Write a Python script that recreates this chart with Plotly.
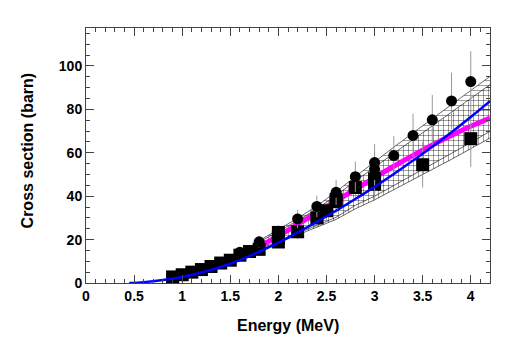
import plotly.graph_objects as go

# ---------------------------------------------------------------------
# Data
# ---------------------------------------------------------------------

# circles (data set 1)
circ_e = [1.6, 1.8, 2.2, 2.4, 2.6, 2.8, 3.0, 3.0, 3.0, 3.2, 3.4, 3.6, 3.8, 4.0]
circ_xs = [14.2, 19.0, 29.5, 35.3, 41.8, 49.0, 55.5, 52.5, 50.0, 58.7, 68.0, 75.2, 83.9, 92.8]
circ_err = [2.0, 2.7, 4.2, 5.0, 5.8, 7.0, 8.5, 8.0, 7.5, 9.0, 10.0, 11.5, 13.0, 14.0]

# squares (data set 2)
sq_e = [0.9, 1.0, 1.1, 1.2, 1.3, 1.4, 1.5, 1.6, 1.7, 1.8,
        2.0, 2.0, 2.0, 2.2, 2.4, 2.5, 2.6, 2.6, 2.8, 3.0, 3.0, 3.5, 4.0]
sq_xs = [2.8, 3.8, 5.0, 6.2, 7.6, 9.2, 10.5, 12.8, 14.5, 15.5,
         23.3, 21.0, 18.9, 23.6, 30.0, 33.3, 38.5, 37.5, 44.0, 48.0, 45.5, 54.5, 66.5]
sq_err = [0.4, 0.5, 0.7, 0.9, 1.1, 1.3, 1.5, 1.8, 2.0, 2.2,
          3.3, 3.0, 2.7, 3.4, 4.3, 4.8, 5.5, 5.3, 6.3, 8.0, 7.5, 10.5, 13.0]

# blue calculation
blue_e = [0.45, 0.6, 0.8, 1.0, 1.2, 1.4, 1.6, 1.8, 2.0, 2.2, 2.4, 2.6,
          2.8, 3.0, 3.2, 3.4, 3.6, 3.8, 4.0, 4.2]
blue_xs = [0.0, 0.4, 1.4, 2.8, 4.8, 7.4, 10.5, 14.4, 18.6, 23.3, 28.2, 33.3,
           38.7, 44.3, 50.2, 56.4, 62.8, 69.5, 76.5, 83.8]

# magenta calculation
mag_e = [1.0, 1.2, 1.4, 1.6, 1.8, 2.0, 2.2, 2.4, 2.6,
         2.8, 3.0, 3.2, 3.4, 3.6, 3.8, 4.0, 4.2]
mag_xs = [3.3, 5.8, 8.9, 12.6, 16.8, 21.7, 27.0, 32.4, 37.8,
          43.2, 48.6, 53.8, 58.8, 63.6, 68.0, 72.2, 76.0]

# hatched uncertainty bands
band_e = [1.8, 2.0, 2.2, 2.4, 2.6, 2.8, 3.0, 3.2, 3.4, 3.6, 3.8, 4.0, 4.2]
band_top = [19.5, 24.5, 29.8, 35.5, 42.0, 49.0, 56.0, 62.6, 69.2, 75.8, 82.3, 88.8, 95.2]
band_second = [18.8, 23.6, 28.7, 34.2, 40.3, 47.0, 53.5, 59.8, 66.1, 72.4, 78.7, 85.0, 91.4]
band_lowgrid = [15.5, 19.3, 23.0, 26.5, 30.3, 35.8, 40.0, 44.9, 49.8, 54.6, 59.6, 64.7, 69.9]
band_bottom = [15.0, 18.6, 22.2, 25.6, 29.3, 34.2, 38.3, 43.0, 47.6, 52.3, 57.0, 61.9, 66.8]

FONT = "Liberation Sans"

fig = go.Figure()

# band with vertical hatching (bottom .. second)
fig.add_trace(go.Scatter(x=band_e, y=band_bottom, mode="lines",
                         line=dict(color="black", width=0.6), showlegend=False))
fig.add_trace(go.Scatter(x=band_e, y=band_second, mode="lines", fill="tonexty",
                         fillcolor="rgba(0,0,0,0)",
                         fillpattern=dict(shape="|", fgcolor="black", bgcolor="rgba(0,0,0,0)",
                                          size=5, solidity=0.15),
                         line=dict(color="black", width=0.6), showlegend=False))
# band with horizontal hatching (lowgrid .. top)
fig.add_trace(go.Scatter(x=band_e, y=band_lowgrid, mode="lines",
                         line=dict(color="black", width=0.6), showlegend=False))
fig.add_trace(go.Scatter(x=band_e, y=band_top, mode="lines", fill="tonexty",
                         fillcolor="rgba(0,0,0,0)",
                         fillpattern=dict(shape="-", fgcolor="black", bgcolor="rgba(0,0,0,0)",
                                          size=5, solidity=0.15),
                         line=dict(color="black", width=0.6), showlegend=False))

# magenta curve
fig.add_trace(go.Scatter(x=mag_e, y=mag_xs, mode="lines", line_shape="spline",
                         line=dict(color="#ff00ff", width=5), showlegend=False))

# data points
fig.add_trace(go.Scatter(x=sq_e, y=sq_xs, mode="markers",
                         marker=dict(symbol="square", size=13, color="black"),
                         error_y=dict(type="data", array=sq_err, color="#999999",
                                      thickness=1, width=0),
                         showlegend=False))
fig.add_trace(go.Scatter(x=circ_e, y=circ_xs, mode="markers",
                         marker=dict(symbol="circle", size=11, color="black"),
                         error_y=dict(type="data", array=circ_err, color="#999999",
                                      thickness=1, width=0),
                         showlegend=False))

# blue calculation on top
fig.add_trace(go.Scatter(x=blue_e, y=blue_xs, mode="lines", line_shape="spline",
                         line=dict(color="#0000ff", width=2.5), showlegend=False))

axis_common = dict(
    showline=True, linecolor="#444444", linewidth=1, mirror="allticks",
    ticks="inside", ticklen=8, tickcolor="#444444", tickwidth=1,
    showgrid=False, zeroline=False, automargin=False,
    tickfont=dict(family=FONT, size=14, color="black", weight="bold"),
)

title_font = dict(family=FONT, size=16, color="black", weight="bold")

# the page body adds an 8 px offset, so the figure is 8 px smaller
fig.update_layout(
    width=502, height=332,
    margin=dict(l=78, r=20, t=20, b=57, autoexpand=False),
    paper_bgcolor="white", plot_bgcolor="white",
    xaxis=dict(range=[0, 4.2], dtick=0.5, tick0=0,
               minor=dict(ticks="inside", dtick=0.1, ticklen=4, tickcolor="#444444"),
               **axis_common),
    yaxis=dict(range=[0, 117.5], dtick=20, tick0=0,
               minor=dict(ticks="inside", dtick=5, ticklen=4, tickcolor="#444444"),
               **axis_common),
    annotations=[
        dict(text="Energy (MeV)", xref="paper", yref="paper",
             x=0.5, y=-0.165, xanchor="center", yanchor="middle",
             showarrow=False, font=title_font),
        dict(text="Cross section (barn)", xref="paper", yref="paper",
             x=-0.146, y=0.52, xanchor="center", yanchor="middle",
             textangle=-90, showarrow=False, font=title_font),
    ],
)

fig.write_html("out.html")
